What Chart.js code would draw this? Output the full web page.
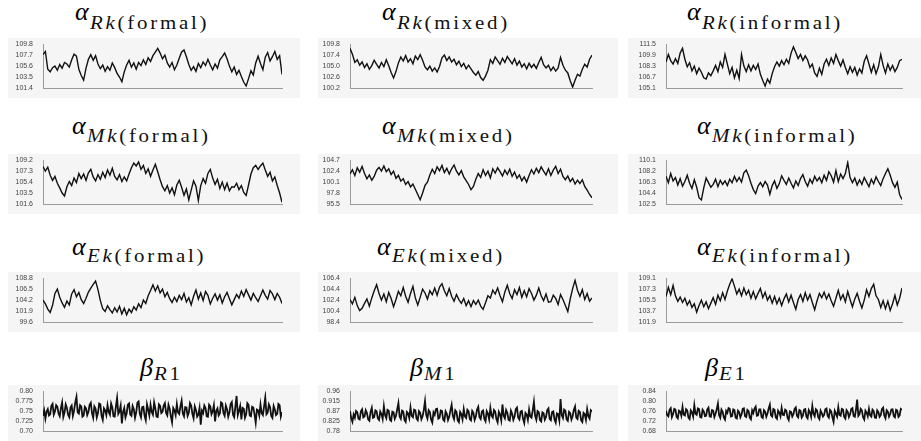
<!DOCTYPE html>
<html>
<head>
<meta charset="utf-8">
<script src="https://cdn.jsdelivr.net/npm/chart.js@4.4.1/dist/chart.umd.min.js"></script>
<style>
  body { margin: 0; background: #fff; width: 921px; height: 441px; position: relative; overflow: hidden; font-family: "Liberation Serif", "Times New Roman", serif; }
  canvas { position: absolute; background: #f5f5f5; }
  .t { position: absolute; white-space: nowrap; font-size: 26px; line-height: 26px; color: #000; }
  .t .g { font-style: italic; }
  .t .s { display: inline-block; font-size: 19px; letter-spacing: 2.5px; transform: scaleX(1.1); transform-origin: 0 0; position: relative; margin-left: 1px; color: #111; }
</style>
</head>
<body>

<div class="t" style="left:75px;top:-1px"><i class="g">α</i><span class="s" style="top:9px"><i>Rk</i>(formal)</span></div>
<div class="t" style="left:382px;top:-1px"><i class="g">α</i><span class="s" style="top:9px"><i>Rk</i>(mixed)</span></div>
<div class="t" style="left:687px;top:-1px"><i class="g">α</i><span class="s" style="top:9px"><i>Rk</i>(informal)</span></div>
<div class="t" style="left:72px;top:113px"><i class="g">α</i><span class="s" style="top:8px"><i>Mk</i>(formal)</span></div>
<div class="t" style="left:382px;top:113px"><i class="g">α</i><span class="s" style="top:8px"><i>Mk</i>(mixed)</span></div>
<div class="t" style="left:697px;top:113px"><i class="g">α</i><span class="s" style="top:8px"><i>Mk</i>(informal)</span></div>
<div class="t" style="left:72px;top:234px"><i class="g">α</i><span class="s" style="top:7px"><i>Ek</i>(formal)</span></div>
<div class="t" style="left:377px;top:234px"><i class="g">α</i><span class="s" style="top:7px"><i>Ek</i>(mixed)</span></div>
<div class="t" style="left:697px;top:234px"><i class="g">α</i><span class="s" style="top:7px"><i>Ek</i>(informal)</span></div>
<div class="t" style="left:140px;top:355px"><i class="g">β</i><span class="s" style="top:4px"><i>R</i>1</span></div>
<div class="t" style="left:410px;top:355px"><i class="g">β</i><span class="s" style="top:4px"><i>M</i>1</span></div>
<div class="t" style="left:705px;top:355px"><i class="g">β</i><span class="s" style="top:4px"><i>E</i>1</span></div>

<canvas id="c0"></canvas><canvas id="c1"></canvas><canvas id="c2"></canvas>
<canvas id="c3"></canvas><canvas id="c4"></canvas><canvas id="c5"></canvas>
<canvas id="c6"></canvas><canvas id="c7"></canvas><canvas id="c8"></canvas>
<canvas id="c9"></canvas><canvas id="c10"></canvas><canvas id="c11"></canvas>

<script>
var iterations = [0,10,20,30,40,50,60,70,80,90,100,110,120,130,140,150,160,170,180,190,
  200,210,220,230,240,250,260,270,280,290,300,310,320,330,340,350,360,370,380,390,
  400,410,420,430,440,450,460,470,480,490,500,510,520,530,540,550,560,570,580,590,
  600,610,620,630,640,650,660,670,680,690,700,710,720,730,740,750,760,770,780,790,
  800,810,820,830,840,850,860,870,880,890,900,910,920,930,940,950,960,970,980,990,1000];

// beta traces are much noisier, sampled every 5 iterations
var iterationsFine = [0,5,10,15,20,25,30,35,40,45,50,55,60,65,70,75,80,85,90,95,
  100,105,110,115,120,125,130,135,140,145,150,155,160,165,170,175,180,185,190,195,
  200,205,210,215,220,225,230,235,240,245,250,255,260,265,270,275,280,285,290,295,
  300,305,310,315,320,325,330,335,340,345,350,355,360,365,370,375,380,385,390,395,
  400,405,410,415,420,425,430,435,440,445,450,455,460,465,470,475,480,485,490,495,
  500,505,510,515,520,525,530,535,540,545,550,555,560,565,570,575,580,585,590,595,
  600,605,610,615,620,625,630,635,640,645,650,655,660,665,670,675,680,685,690,695,
  700,705,710,715,720,725,730,735,740,745,750,755,760,765,770,775,780,785,790,795,
  800,805,810,815,820,825,830,835,840,845,850,855,860,865,870,875,880,885,890,895,
  900,905,910,915,920,925,930,935,940,945,950,955,960,965,970,975,980,985,990,995,1000];

var xTicks = [0,200,400,600,800,1000];

var rkFormal = [107.8,108.4,105,104.5,105.3,105.6,104.8,105.9,105.2,106.3,
  106,105.4,106.8,107.9,107.5,105,103.8,102.9,105.2,106.9,
  107.8,106.7,107.6,106,105.1,105.8,104.6,105.5,104.8,106.2,
  105.3,104.2,103.5,102.6,104.5,105.8,106.7,105.4,106.2,105,
  106.3,105.7,106.8,105.9,107.2,106.5,107.6,108.3,109.0,108.1,
  107,107.7,106.2,105.4,106.3,104.9,105.8,107.1,108.3,108.7,
  107.4,105.9,104.8,105.5,104.6,106.1,105.3,106.4,105.7,106.9,
  105.8,104.9,106,105.2,106.8,107.4,108.1,107,105.6,104.5,
  105.4,104,104.8,103.6,102.5,101.8,103.2,104.7,103.9,106.2,
  107.5,106.1,104.9,107.3,108.2,106.6,107.4,108.4,106.9,107.6,104];
var rkFormalTicks = [101.4,103.5,105.6,107.7,109.8];

var rkMixed = [108.9,107.6,105.8,106.4,105.2,105.9,104.7,105.5,104.3,105.1,
  106.3,105.4,104.6,105.8,104.9,106.4,105.1,103.6,102.4,103.8,
  105.7,107,106.1,107.3,105.9,106.6,105.5,107.2,106.4,107.5,
  106.3,104.8,104.2,105,103.9,104.6,103.7,104.9,106.8,107.4,
  106.2,107,105.9,106.5,105.3,106.1,104.9,105.6,104.4,105.2,
  104.4,103.6,103,103.8,102.5,101.9,102.8,104.1,106.4,105.6,
  107,106.2,105.4,106.7,105.8,107.1,106.3,105.5,106.6,105.2,
  106.1,104.8,105.5,104.4,105.6,104.7,105.4,104.5,105.8,106.9,
  105.3,104.6,105.2,104,104.8,103.9,104.6,106.9,105.2,104.1,
  103.5,101.8,100.4,101.9,103.2,102.8,104.3,105.4,104.8,106.5,107.4];
var rkMixedTicks = [100.2,102.6,105.0,107.4,109.8];

var rkInformal = [108.9,110,109.1,108.6,109.4,108.7,110.2,110.9,109.3,108.2,
  108.8,107.6,108.3,107.2,108,107.4,106.6,106.4,107.3,106.9,
  107.6,108.4,107.5,108.9,108.1,110,108.6,107.2,108.1,106.6,
  107.7,106.5,110,108.3,107.5,108.5,107.6,108.4,107.8,108.6,
  107.1,106.2,105.4,106.4,105.8,107.2,108.2,108.9,108.3,109.1,
  108.5,109.3,108.7,110.2,111.1,110.3,109.4,110,109.1,109.8,
  109.2,108.1,108.6,107.3,106.8,108,107.1,108.6,109.3,108.4,
  109.5,108.7,110,109.1,108.3,109.2,108.1,107.2,108.2,107.4,
  108.1,107,107.9,107.3,109,109.8,108.6,107.4,108.5,107.2,
  108.2,110,108.4,107.3,108.6,107.7,108.4,107.5,108.1,109.1,109.3];
var rkInformalTicks = [105.1,106.7,108.3,109.9,111.5];

var mkFormal = [108.1,107.3,108,106.6,105.7,106.4,105.2,104.4,103.5,103,
  104.6,105.5,104.8,106.1,105.3,106.9,106,106.8,105.7,107,
  107.6,106.3,105.6,106.7,105.9,107.1,106.2,107.5,106.6,107.8,
  106.4,105.8,106.7,105.5,106.3,105.6,106.8,107.9,108.7,108.2,
  108.9,107.6,108.3,106.9,107.7,106.4,107.5,108.5,107.2,105.8,
  104.6,103.9,104.8,103.5,104.4,103.2,104.9,105.7,104.5,103.1,
  104.2,102.3,104,105.6,104.7,102.2,104.8,106,105.2,106.9,
  107.6,106.1,105,105.9,104.3,105.4,104.1,105.2,103.9,104.6,
  104.5,105.2,104.1,104.8,103.6,103.1,104.9,106.8,107.9,108.3,
  107.6,108.2,108.7,107.5,106.4,107.1,105.6,106.3,104.8,103.5,101.9];
var mkFormalTicks = [101.6,103.5,105.4,107.3,109.2];

var mkMixed = [101.8,102.7,101.5,103.1,102.2,103.4,101.9,100.8,101.6,100.5,
  101.3,102.6,103.2,102.4,103.5,102.3,102.9,101.7,102.4,100.9,
  101.5,100.3,100.8,99.6,100.2,99.1,99.7,98.6,97.5,96.4,
  97.8,99.4,100.1,101.6,102.8,101.9,103.3,102.5,103.6,102.1,
  103,101.8,102.9,103.7,102.4,101.6,102.5,101.2,100.4,99.6,
  98.5,99.2,100.7,101.9,101.1,102.7,101.5,102.4,101,102.9,
  102,103.1,102.3,101.4,102.6,101.7,102.8,101.3,102.2,100.9,
  101.6,100.4,101.2,100.1,101.5,102.7,101.8,103,102.1,103.3,
  102.4,101.6,102.9,101.5,102.6,103.4,101.9,102.8,101.3,100.6,
  101.4,100.2,100.9,99.7,100.5,99.8,100.6,99.2,98.4,97.5,96.8];
var mkMixedTicks = [95.5,97.8,100.1,102.4,104.7];

var mkInformal = [107.3,106.2,107.8,106.5,107.1,105.8,106.9,105.6,106.4,107.5,
  106.1,105.2,106.7,105.4,103.6,103.2,105.3,107,106.2,105.4,
  105.9,106.8,105.5,106.6,105.9,106.5,105.7,106.8,106.2,107.3,
  106.4,107.1,106.3,107.9,108.4,107.4,106.1,105,104.3,105.6,
  106.2,105.5,106.4,105.8,104.2,105.7,106.5,105.2,106,107.4,
  106.6,105.9,107,106.1,105.3,106.5,105.7,106.9,107.6,106.4,
  105.6,106.8,106.1,107.3,106.5,107.1,106.2,107.5,106.6,108.1,
  107.4,106.3,108.3,106.4,107.7,106.9,107.8,109.7,107.1,106.2,
  107,105.8,106.7,105.9,107.1,106.3,105.5,106.8,106,107.2,
  106.4,105.7,106.9,107.8,108.6,107.5,106.2,105.4,106.3,104.1,103.3];
var mkInformalTicks = [102.5,104.4,106.3,108.2,110.1];

var ekFormal = [104.2,103.4,102.3,101.6,103.1,105.6,106.5,104.8,103.6,102.7,
  104,103.2,105.5,106.4,104.9,105.8,104.3,103.5,104.6,105.9,
  106.7,107.5,108.2,106.4,104.1,102.4,101.8,103,102.2,101.5,
  102.6,101.7,102.9,101.3,102.5,101.1,102.3,101.6,102.8,102.1,
  103.4,102.6,104.2,103.5,105.1,106.2,107.4,106.1,107.2,105.7,
  106.5,104.9,105.8,104.5,103.7,104.8,103.9,105.2,104.3,105.6,
  103.8,104.7,103.2,105,106.3,104.4,105.7,104.1,106,105.2,
  103.4,104.6,105.5,104.2,105.3,103.6,104.9,105.8,104.5,103.2,
  104.3,105.4,104.6,106.1,105,106.4,105.3,104.2,105.6,104.7,
  103.9,105.1,106.3,105.2,104.4,106.2,105.5,104.3,105.6,104.8,103.5];
var ekFormalTicks = [99.6,101.9,104.2,106.5,108.8];

var ekMixed = [102.5,101.7,102.9,101.4,100.5,100.9,101.8,102.6,101.3,102.8,
  104.1,105.2,103.6,102.4,103.5,102.1,103.8,102.7,101.2,102.5,
  104,103.2,104.7,103.1,102,103.6,104.9,102.8,101.5,102.9,
  104.4,103.7,102.6,104.1,103.4,104.6,103.3,104.8,105.4,104.1,
  103.2,104.5,103.1,102.2,103.4,102.5,101.8,102.7,101.4,102.3,
  101.2,102.3,101.6,102.4,101.3,100.7,101.9,103.2,102.8,104.2,
  103.5,104.6,103.2,102.1,103.9,105.1,103.6,102.7,104.3,103.4,
  104.7,102.9,104.1,103,104.5,103.6,102.4,103.3,104.6,103.2,
  102.3,103.5,102,102.1,103.3,102.7,101.6,103.4,102.5,101.4,
  100.3,102.6,104.5,106,104.2,103.1,104.3,102.5,103.6,102.2,102.8];
var ekMixedTicks = [98.4,100.4,102.4,104.4,106.4];

var ekInformal = [106.1,107.6,106.4,107.9,106.2,105.3,106,105.1,105.8,104.7,
  105.4,104.3,104.9,103.5,104.6,105.5,104.4,105.2,104.1,105,
  105.9,104.8,106.3,105.4,106.7,105.6,107,108.1,109,107.8,
  106.5,107.3,106.2,107.5,106.4,107.1,105.8,106.9,105.7,106.6,
  107.4,105.9,106.8,105.5,106.2,105,106.1,104.9,105.8,104.6,
  105.7,106.5,105.2,106.3,105.1,104,105.6,106.4,105.3,106.7,
  105.5,106.4,105.1,103.9,105.4,106.6,105.9,106.8,105.7,106.5,
  105.4,104.5,105.8,107.1,105.6,106.4,105.2,106.9,105.6,104.4,
  105.7,106.6,105.3,104.2,105.5,107.2,106.1,107.4,108.1,106.2,
  105.6,104.3,105.4,104.1,105.3,103.8,104.9,106.3,104.7,105.8,107.5];
var ekInformalTicks = [101.9,103.7,105.5,107.3,109.1];

var betaR1 = [0.738,0.752,0.731,0.749,0.755,0.739,0.742,0.763,0.768,0.741,0.749,0.765,0.761,0.744,0.737,0.758,0.772,0.735,0.746,0.767,
  0.758,0.741,0.735,0.759,0.764,0.738,0.751,0.772,0.786,0.747,0.744,0.765,0.762,0.736,0.739,0.761,0.757,0.74,0.748,0.766,
  0.771,0.745,0.733,0.762,0.756,0.734,0.745,0.769,0.767,0.738,0.728,0.757,0.752,0.74,0.765,0.748,0.741,0.769,0.759,0.737,
  0.736,0.761,0.783,0.743,0.749,0.764,0.719,0.748,0.758,0.734,0.744,0.766,0.769,0.741,0.738,0.763,0.755,0.733,0.747,0.771,
  0.774,0.743,0.734,0.76,0.761,0.738,0.727,0.767,0.754,0.739,0.766,0.748,0.741,0.772,0.757,0.736,0.735,0.767,0.763,0.745,
  0.748,0.764,0.77,0.745,0.739,0.766,0.756,0.737,0.722,0.758,0.752,0.74,0.768,0.747,0.743,0.762,0.776,0.744,0.737,0.76,
  0.759,0.738,0.746,0.77,0.764,0.743,0.732,0.762,0.753,0.736,0.741,0.758,0.716,0.751,0.745,0.764,0.758,0.737,0.736,0.766,
  0.762,0.742,0.749,0.765,0.724,0.751,0.757,0.739,0.744,0.772,0.769,0.745,0.738,0.764,0.755,0.736,0.747,0.768,0.773,0.741,
  0.735,0.762,0.788,0.74,0.751,0.763,0.729,0.758,0.756,0.733,0.742,0.77,0.766,0.739,0.737,0.761,0.759,0.742,0.721,0.754,
  0.752,0.739,0.767,0.745,0.74,0.761,0.784,0.742,0.746,0.767,0.76,0.738,0.733,0.763,0.754,0.74,0.743,0.768,0.765,0.736,0.748];
var betaR1Ticks = [0.70,0.725,0.75,0.775,0.80];

var betaM1 = [0.87,0.838,0.822,0.855,0.84,0.871,0.865,0.836,0.832,0.869,0.878,0.842,0.846,0.874,0.861,0.833,0.827,0.866,0.885,0.84,
  0.843,0.873,0.869,0.837,0.83,0.868,0.857,0.834,0.892,0.851,0.838,0.876,0.872,0.831,0.826,0.867,0.864,0.835,0.849,0.878,
  0.906,0.846,0.835,0.872,0.868,0.83,0.821,0.866,0.859,0.838,0.887,0.848,0.842,0.877,0.874,0.836,0.829,0.87,0.862,0.833,
  0.847,0.875,0.915,0.852,0.836,0.874,0.866,0.832,0.818,0.864,0.853,0.879,0.881,0.836,0.84,0.873,0.871,0.831,0.825,0.869,
  0.858,0.829,0.844,0.873,0.898,0.848,0.833,0.874,0.867,0.828,0.82,0.866,0.856,0.832,0.879,0.846,0.839,0.876,0.87,0.834,
  0.828,0.871,0.862,0.83,0.845,0.877,0.889,0.842,0.834,0.868,0.873,0.836,0.824,0.87,0.859,0.833,0.884,0.849,0.841,0.875,
  0.868,0.834,0.819,0.867,0.855,0.828,0.9,0.849,0.837,0.875,0.863,0.831,0.827,0.872,0.858,0.83,0.845,0.879,0.886,0.84,
  0.832,0.868,0.871,0.835,0.816,0.862,0.854,0.83,0.877,0.845,0.84,0.873,0.912,0.849,0.831,0.87,0.865,0.829,0.823,0.864,
  0.86,0.831,0.843,0.874,0.882,0.835,0.829,0.866,0.869,0.832,0.818,0.86,0.857,0.828,0.924,0.851,0.838,0.877,0.872,0.833,
  0.826,0.867,0.861,0.832,0.847,0.876,0.891,0.84,0.834,0.871,0.866,0.829,0.821,0.862,0.856,0.83,0.879,0.847,0.836,0.874,0.868];
var betaM1Ticks = [0.78,0.825,0.87,0.915,0.96];

var betaE1 = [0.761,0.744,0.739,0.765,0.772,0.736,0.748,0.769,0.766,0.737,0.731,0.762,0.758,0.741,0.777,0.745,0.742,0.768,0.763,0.734,
  0.728,0.763,0.755,0.738,0.784,0.749,0.745,0.771,0.768,0.736,0.734,0.766,0.759,0.74,0.741,0.767,0.774,0.739,0.737,0.764,
  0.762,0.736,0.749,0.768,0.79,0.743,0.733,0.766,0.757,0.735,0.726,0.761,0.753,0.772,0.769,0.738,0.74,0.767,0.764,0.733,
  0.73,0.762,0.756,0.735,0.746,0.769,0.771,0.739,0.736,0.765,0.76,0.734,0.727,0.763,0.752,0.77,0.778,0.741,0.743,0.767,
  0.767,0.736,0.732,0.764,0.758,0.737,0.75,0.771,0.786,0.743,0.738,0.768,0.765,0.735,0.729,0.762,0.754,0.739,0.773,0.745,
  0.744,0.766,0.762,0.733,0.724,0.759,0.757,0.738,0.748,0.769,0.775,0.741,0.735,0.764,0.761,0.734,0.742,0.766,0.768,0.738,
  0.731,0.764,0.755,0.737,0.781,0.749,0.739,0.768,0.763,0.736,0.728,0.762,0.752,0.738,0.745,0.767,0.77,0.741,0.734,0.765,
  0.759,0.735,0.717,0.761,0.75,0.738,0.776,0.744,0.741,0.769,0.766,0.737,0.73,0.764,0.757,0.736,0.747,0.768,0.772,0.74,
  0.737,0.766,0.806,0.741,0.748,0.769,0.763,0.735,0.726,0.762,0.754,0.739,0.769,0.743,0.738,0.766,0.76,0.734,0.733,0.763,
  0.756,0.737,0.744,0.768,0.774,0.742,0.731,0.764,0.758,0.738,0.749,0.766,0.767,0.74,0.735,0.765,0.762,0.737,0.743,0.769,0.765];
var betaE1Ticks = [0.68,0.72,0.76,0.80,0.84];

// grid placement of the 12 panels
var cols = [
  {left: 8, w: 292, axisW: 35, padR: 18},
  {left: 318, w: 300, axisW: 32, padR: 26},
  {left: 628, w: 293, axisW: 38, padR: 19}
];
var rows = [
  {top: 38, h: 60},
  {top: 154, h: 60},
  {top: 272, h: 60},
  {top: 385, h: 56}
];

var series = [rkFormal, rkMixed, rkInformal, mkFormal, mkMixed, mkInformal,
  ekFormal, ekMixed, ekInformal, betaR1, betaM1, betaE1];
var yTicks = [rkFormalTicks, rkMixedTicks, rkInformalTicks, mkFormalTicks, mkMixedTicks, mkInformalTicks,
  ekFormalTicks, ekMixedTicks, ekInformalTicks, betaR1Ticks, betaM1Ticks, betaE1Ticks];

function fmt(v) {
  if (v >= 10) return v.toFixed(1);
  var s = String(v);
  if (s.indexOf('.') < 0 || s.split('.')[1].length < 2) s = v.toFixed(2);
  return s;
}

var tickFont = {family: "'Liberation Sans', Arial, sans-serif", size: 7};

for (var i = 0; i < 12; i++) {
  var col = cols[i % 3], row = rows[Math.floor(i / 3)];
  var cv = document.getElementById('c' + i);
  cv.width = col.w; cv.height = row.h;
  cv.style.left = col.left + 'px'; cv.style.top = row.top + 'px';
  var ticks = yTicks[i];
  var xs = i >= 9 ? iterationsFine : iterations;
  var pts = xs.map(function (it, k) { return {x: it, y: this[k]}; }, series[i]);

  new Chart(cv, {
    type: 'line',
    data: {
      datasets: [{
        data: pts,
        borderColor: '#111',
        borderWidth: i >= 9 ? 1.8 : 1.4,
        pointRadius: 0,
        tension: 0,
        fill: false
      }]
    },
    options: {
      responsive: false,
      animation: false,
      events: [],
      layout: {padding: {top: 4, right: col.padR, left: 0, bottom: 0}},
      plugins: {legend: {display: false}, tooltip: {enabled: false}},
      scales: {
        x: {
          type: 'linear', min: 0, max: 1000,
          afterBuildTicks: function (s) { s.ticks = xTicks.map(function (v) { return {value: v}; }); },
          afterFit: function (s) { s.height = 10; },
          grid: {display: false},
          border: {color: '#9a9a9a', width: 1},
          ticks: {font: tickFont, color: '#444', padding: 1, maxRotation: 0, autoSkip: false}
        },
        y: {
          type: 'linear', min: ticks[0], max: ticks[ticks.length - 1],
          afterBuildTicks: (function (t) { return function (s) { s.ticks = t.map(function (v) { return {value: v}; }); }; })(ticks),
          afterFit: (function (w) { return function (s) { s.width = w; }; })(col.axisW),
          grid: {display: false},
          border: {color: '#9a9a9a', width: 1},
          ticks: {font: tickFont, color: '#444', padding: 2, autoSkip: false, callback: function (v) { return fmt(v); }}
        }
      }
    }
  });
}
</script>
</body>
</html>
